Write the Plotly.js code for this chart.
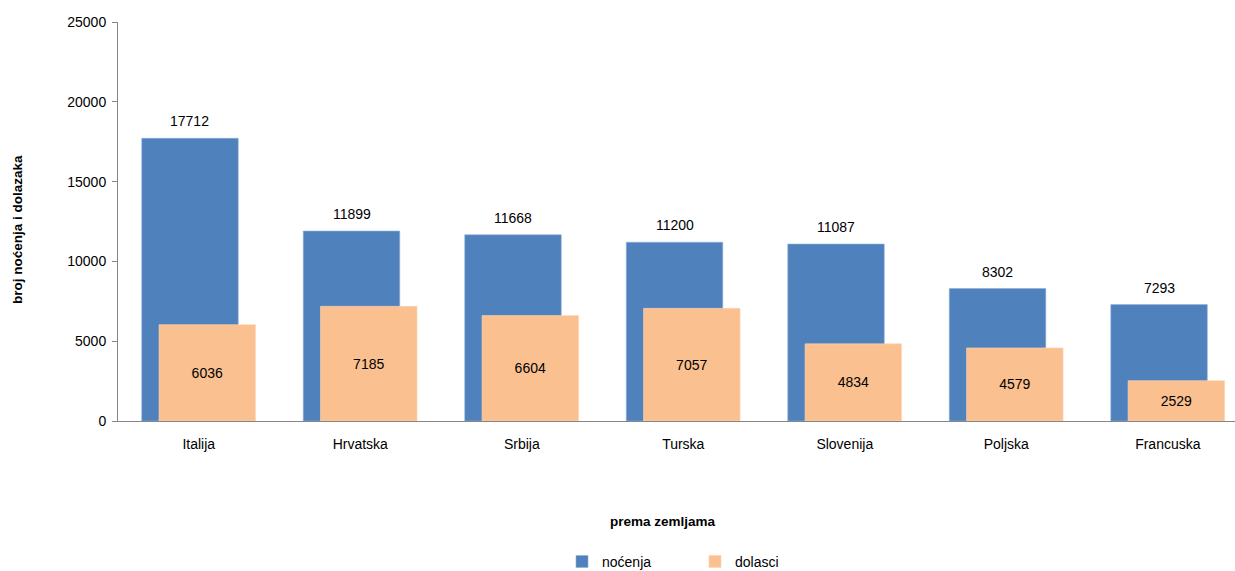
<!DOCTYPE html>
<html>
<head>
<meta charset="utf-8">
<script src="https://cdn.plot.ly/plotly-3.0.1.min.js"></script>
<style>html,body{margin:0;padding:0;background:#fff;}#chart{width:1235px;height:571px;}</style>
</head>
<body>
<div id="chart"></div>
<script>
var categories = ["Italija", "Hrvatska", "Srbija", "Turska", "Slovenija", "Poljska", "Francuska"];
var nocenja = [17712, 11899, 11668, 11200, 11087, 8302, 7293];
var dolasci = [6036, 7185, 6604, 7057, 4834, 4579, 2529];
var yTicks = [0, 5000, 10000, 15000, 20000, 25000];

var FONT = "Liberation Sans, Arial, sans-serif";
var BAR_W = 0.5975;
var OFF_BLUE = -0.353;
var OFF_ORANGE = -0.246;

var traceN = {
  type: "bar", name: "noćenja", x: categories, y: nocenja,
  width: BAR_W, offset: OFF_BLUE,
  marker: {color: "#4F81BD", line: {color: "#8EAED6", width: 0.6}},
  hoverinfo: "none"
};
var traceD = {
  type: "bar", name: "dolasci", x: categories, y: dolasci,
  width: BAR_W, offset: OFF_ORANGE,
  marker: {color: "#FAC090", line: {color: "#FCD5B4", width: 0.6}},
  text: dolasci.map(String), textposition: "inside", insidetextanchor: "middle",
  textfont: {family: FONT, size: 14, color: "#000"}, constraintext: "none",
  textangle: 0, hoverinfo: "none"
};

var annotations = nocenja.map(function (v, i) {
  return {x: i + OFF_BLUE + BAR_W / 2, y: v, xref: "x", yref: "y", text: String(v),
    showarrow: false, yshift: 17, yanchor: "middle", xanchor: "center",
    font: {family: FONT, size: 14, color: "#000"}};
});
annotations.push({text: "<b>broj noćenja i dolazaka</b>", xref: "paper", yref: "paper",
  x: -0.0895, y: 0.479, textangle: -90, showarrow: false, xanchor: "center", yanchor: "middle",
  font: {family: FONT, size: 13.5, color: "#000"}});
annotations.push({text: "<b>prema zemljama</b>", xref: "paper", yref: "paper",
  x: 0.488, y: -0.253, showarrow: false, xanchor: "center", yanchor: "middle",
  font: {family: FONT, size: 13.5, color: "#000"}});

var layout = {
  width: 1235, height: 571,
  margin: {l: 118, r: 0, t: 22, b: 150, pad: 0, autoexpand: false},
  paper_bgcolor: "#fff", plot_bgcolor: "#fff",
  barmode: "overlay",
  font: {family: FONT, size: 14, color: "#000"},
  xaxis: {
    type: "category", range: [-0.5, 6.416], showgrid: false, zeroline: false,
    showline: true, linecolor: "#868686", linewidth: 1, ticks: "",
    ticklabelstandoff: 10, tickfont: {family: FONT, size: 14, color: "#000"},
    fixedrange: true, automargin: false
  },
  yaxis: {
    range: [0, 25000], tickvals: yTicks, ticktext: yTicks.map(String),
    showgrid: false, zeroline: false, showline: true, linecolor: "#868686", linewidth: 1,
    ticks: "outside", ticklen: 5, tickcolor: "#868686", ticklabelstandoff: 3,
    tickfont: {family: FONT, size: 14, color: "#000"}, fixedrange: true, automargin: false
  },
  showlegend: true,
  legend: {orientation: "h", x: 0.3975, xanchor: "left", y: -0.353, yanchor: "middle",
    font: {family: FONT, size: 14, color: "#000"}, entrywidth: 88, entrywidthmode: "pixels",
    itemclick: false, itemdoubleclick: false, bgcolor: "rgba(0,0,0,0)"},
  annotations: annotations
};

Plotly.newPlot("chart", [traceN, traceD], layout, {displayModeBar: false, staticPlot: true});
</script>
</body>
</html>
